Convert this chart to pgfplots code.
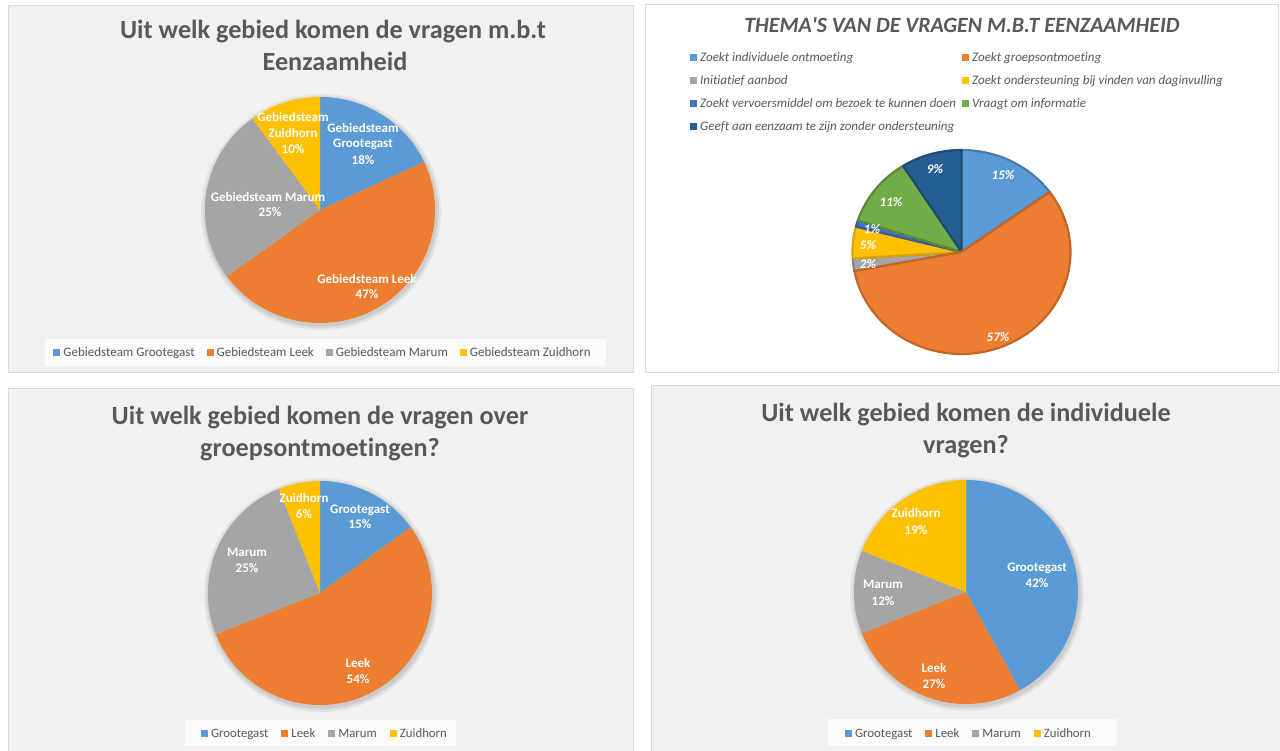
\documentclass[border=0pt]{standalone}
\usepackage{fontspec}
\setmainfont{Carlito}[Ligatures={NoCommon}]
\usepackage{pgfplots}
\pgfplotsset{compat=1.18}
\definecolor{cBlue}{HTML}{5B9BD5}
\definecolor{cOrange}{HTML}{ED7D31}
\definecolor{cGray}{HTML}{A5A5A5}
\definecolor{cYellow}{HTML}{FFC000}
\definecolor{cDBlue}{HTML}{4472C4}
\definecolor{cGreen}{HTML}{70AD47}
\definecolor{cNavy}{HTML}{255E91}
\definecolor{txt}{HTML}{595959}
\definecolor{panelbg}{HTML}{F1F1F1}
\definecolor{bord}{HTML}{D9D9D9}
% slice: cx cy rx ry startpct endpct colour (pixel coordinates, y downwards)
\newcommand{\slice}[7]{\addplot[fill=#7, draw=none, domain={90-3.6*(#6)}:{90-3.6*(#5)}, samples=90, variable=\t] ({#1+#3*cos(\t)},{#2-#4*sin(\t)}) -- (axis cs:#1,#2) -- cycle;}
\newcommand{\sliceb}[8]{\addplot[fill=#7, draw=#8, line width=2.2pt, line join=round, domain={90-3.6*(#6)}:{90-3.6*(#5)}, samples=90, variable=\t] ({#1+#3*cos(\t)},{#2-#4*sin(\t)}) -- (axis cs:#1,#2) -- cycle;}
\newcommand{\shadow}[4]{%
  \fill[black, opacity=0.05] (axis cs:#1+1,#2+2) ellipse [x radius=#3pt+5pt, y radius=#4pt+5pt];
  \fill[black, opacity=0.05] (axis cs:#1+1,#2+2) ellipse [x radius=#3pt+3pt, y radius=#4pt+3pt];
  \fill[black, opacity=0.06] (axis cs:#1+1,#2+2) ellipse [x radius=#3pt+1.5pt, y radius=#4pt+1.5pt];}
\newcommand{\sq}[1]{\textcolor{#1}{\rule{7pt}{7pt}}}
\newcommand{\labfont}{\fontsize{13}{15}\selectfont\bfseries}
\newcommand{\titfont}{\fontsize{26.2}{32}\selectfont\bfseries}
\newcommand{\legfont}{\fontsize{13}{15}\selectfont}
\begin{document}
\begin{tikzpicture}[x=1pt,y=1pt]
\useasboundingbox (0,0) rectangle (1280,750);
\fill[white] (0,0) rectangle (1280,750);
\begin{axis}[at={(0,0)}, anchor=south west, x=1pt, y=1pt, xmin=0, xmax=1280, ymin=0, ymax=750,
  y dir=reverse, hide axis, clip=false]
% panels
\filldraw[fill=panelbg, draw=bord, line width=1pt] (axis cs:8,5) rectangle (axis cs:633,372);
\filldraw[fill=white, draw=bord, line width=1pt] (axis cs:645,4) rectangle (axis cs:1278,372);
\filldraw[fill=panelbg, draw=bord, line width=1pt] (axis cs:8,388) rectangle (axis cs:633,752);
\filldraw[fill=panelbg, draw=bord, line width=1pt] (axis cs:651,385) rectangle (axis cs:1280,752);
% legend boxes
\fill[white, opacity=0.75] (axis cs:45,339) rectangle (axis cs:606,366);
\fill[white, opacity=0.75] (axis cs:185,720) rectangle (axis cs:456,746);
\fill[white, opacity=0.75] (axis cs:828,719) rectangle (axis cs:1117,746);

% ---------- Pie 1: Uit welk gebied komen de vragen m.b.t Eenzaamheid
\shadow{320}{210}{115}{113}
\slice{320}{210}{115}{113}{0}{18}{cBlue}
\slice{320}{210}{115}{113}{18}{65}{cOrange}
\slice{320}{210}{115}{113}{65}{90}{cGray}
\slice{320}{210}{115}{113}{90}{100}{cYellow}

% ---------- Pie 2: Thema's
\sliceb{961.5}{252}{109}{102}{0}{15}{cBlue}{cBlue!80!black}
\sliceb{961.5}{252}{109}{102}{72}{74}{cGray}{cGray!80!black}
\sliceb{961.5}{252}{109}{102}{74}{79}{cYellow}{cYellow!85!black}
\sliceb{961.5}{252}{109}{102}{79}{80}{cDBlue}{cDBlue!80!black}
\sliceb{961.5}{252}{109}{102}{80}{91}{cGreen}{cGreen!80!black}
\sliceb{961.5}{252}{109}{102}{91}{100}{cNavy}{cNavy!80!black}
\sliceb{961.5}{252}{109}{102}{15}{72}{cOrange}{cOrange!82!black}

% ---------- Pie 3: groepsontmoetingen
\shadow{320}{593}{112}{112}
\slice{320}{593}{112}{112}{0}{15}{cBlue}
\slice{320}{593}{112}{112}{15}{69}{cOrange}
\slice{320}{593}{112}{112}{69}{94}{cGray}
\slice{320}{593}{112}{112}{94}{100}{cYellow}

% ---------- Pie 4: individuele vragen
\shadow{966}{592}{112}{112}
\slice{966}{592}{112}{112}{0}{42}{cBlue}
\slice{966}{592}{112}{112}{42}{69}{cOrange}
\slice{966}{592}{112}{112}{69}{81}{cGray}
\slice{966}{592}{112}{112}{81}{100}{cYellow}

% ---------- Titles
\node[font=\titfont, text=txt, anchor=base, inner sep=0] at (axis cs:333,38) {Uit welk gebied komen de vragen m.b.t};
\node[font=\titfont, text=txt, anchor=base, inner sep=0] at (axis cs:335,70) {Eenzaamheid};
\node[font=\fontsize{21.8}{24}\selectfont\bfseries\itshape, text=txt, anchor=base, inner sep=0] at (axis cs:962,32) {THEMA\textquotesingle S VAN DE VRAGEN M.B.T EENZAAMHEID};
\node[font=\titfont, text=txt, anchor=base, inner sep=0] at (axis cs:320,424) {Uit welk gebied komen de vragen over};
\node[font=\titfont, text=txt, anchor=base, inner sep=0] at (axis cs:320,456) {groepsontmoetingen?};
\node[font=\titfont, text=txt, anchor=base, inner sep=0] at (axis cs:966,421) {Uit welk gebied komen de individuele};
\node[font=\titfont, text=txt, anchor=base, inner sep=0] at (axis cs:966,453) {vragen?};

% ---------- Data labels pie 1
\begin{scope}[every node/.style={font=\labfont, text=white, anchor=base, inner sep=0}]
\node at (axis cs:363,132) {Gebiedsteam};
\node at (axis cs:363,147) {Grootegast};
\node at (axis cs:363,164) {18\%};
\node at (axis cs:293,121) {Gebiedsteam};
\node at (axis cs:293,137) {Zuidhorn};
\node at (axis cs:293,153) {10\%};
\node at (axis cs:268,201) {Gebiedsteam Marum};
\node at (axis cs:270,216) {25\%};
\node at (axis cs:367,283) {Gebiedsteam Leek};
\node at (axis cs:367,298) {47\%};
% pie 3
\node at (axis cs:360,513) {Grootegast};
\node at (axis cs:360,528) {15\%};
\node at (axis cs:304,502) {Zuidhorn};
\node at (axis cs:304,518) {6\%};
\node at (axis cs:247,556) {Marum};
\node at (axis cs:247,572) {25\%};
\node at (axis cs:358,667) {Leek};
\node at (axis cs:358,683) {54\%};
% pie 4
\node at (axis cs:916,517) {Zuidhorn};
\node at (axis cs:916,534) {19\%};
\node at (axis cs:883,588) {Marum};
\node at (axis cs:883,605) {12\%};
\node at (axis cs:1037,571) {Grootegast};
\node at (axis cs:1037,587) {42\%};
\node at (axis cs:934,672) {Leek};
\node at (axis cs:934,688) {27\%};
\end{scope}
% pie 2 labels
\begin{scope}[every node/.style={font=\labfont\itshape, text=white, anchor=base, inner sep=0}]
\node at (axis cs:1003,179) {15\%};
\node at (axis cs:935,173) {9\%};
\node at (axis cs:891,206) {11\%};
\node at (axis cs:872,233) {1\%};
\node at (axis cs:868,249) {5\%};
\node at (axis cs:868,268) {2\%};
\node at (axis cs:998,341) {57\%};
\end{scope}

% ---------- Legends
\node[font=\legfont, text=txt, anchor=base, inner sep=0] at (axis cs:322,356) {\sq{cBlue}\hspace{3pt}Gebiedsteam Grootegast\hspace{12pt}\sq{cOrange}\hspace{3pt}Gebiedsteam Leek\hspace{12pt}\sq{cGray}\hspace{3pt}Gebiedsteam Marum\hspace{12pt}\sq{cYellow}\hspace{3pt}Gebiedsteam Zuidhorn};
\node[font=\fontsize{12.8}{15}\selectfont, text=txt, anchor=base, inner sep=0] at (axis cs:324,737) {\sq{cBlue}\hspace{3pt}Grootegast\hspace{13pt}\sq{cOrange}\hspace{3pt}Leek\hspace{13pt}\sq{cGray}\hspace{3pt}Marum\hspace{13pt}\sq{cYellow}\hspace{3pt}Zuidhorn};
\node[font=\fontsize{12.8}{15}\selectfont, text=txt, anchor=base, inner sep=0] at (axis cs:968,737) {\sq{cBlue}\hspace{3pt}Grootegast\hspace{13pt}\sq{cOrange}\hspace{3pt}Leek\hspace{13pt}\sq{cGray}\hspace{3pt}Marum\hspace{13pt}\sq{cYellow}\hspace{3pt}Zuidhorn};
\begin{scope}[every node/.style={font=\fontsize{13}{15}\selectfont\itshape, text=txt, anchor=base west, inner sep=0}]
\node at (axis cs:690,61) {\sq{cBlue}\hspace{3pt}Zoekt individuele ontmoeting};
\node at (axis cs:962,61) {\sq{cOrange}\hspace{3pt}Zoekt groepsontmoeting};
\node at (axis cs:690,84) {\sq{cGray}\hspace{3pt}Initiatief aanbod};
\node at (axis cs:962,84) {\sq{cYellow}\hspace{3pt}Zoekt ondersteuning bij vinden van daginvulling};
\node at (axis cs:690,107) {\sq{cDBlue}\hspace{3pt}Zoekt vervoersmiddel om bezoek te kunnen doen};
\node at (axis cs:962,107) {\sq{cGreen}\hspace{3pt}Vraagt om informatie};
\node at (axis cs:690,130) {\sq{cNavy}\hspace{3pt}Geeft aan eenzaam te zijn zonder ondersteuning};
\end{scope}
\end{axis}
\end{tikzpicture}
\end{document}
